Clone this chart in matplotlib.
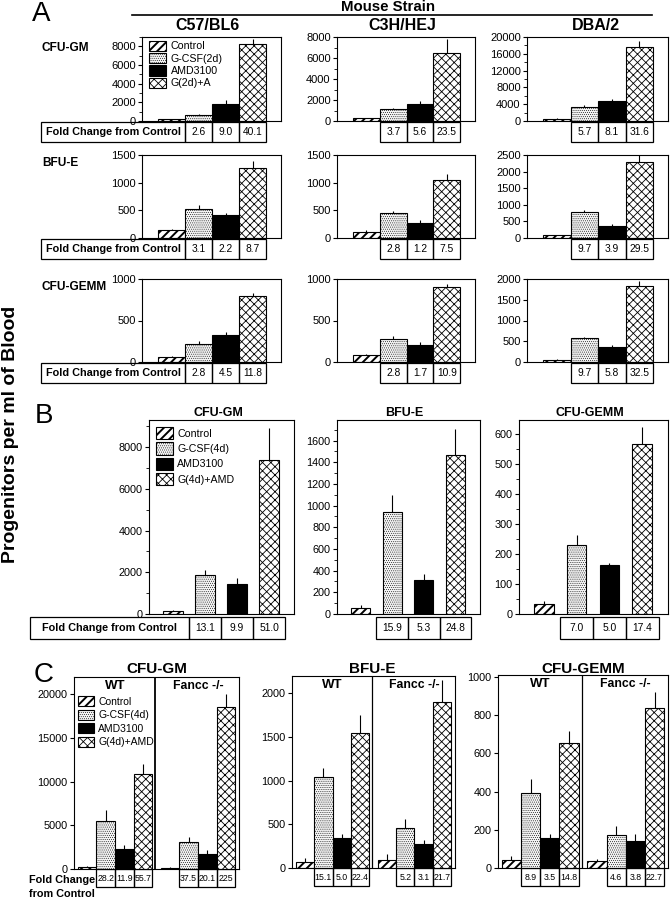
import matplotlib
matplotlib.use('Agg')
import numpy as np
import matplotlib.pyplot as plt
from matplotlib.patches import Rectangle
from matplotlib.lines import Line2D
from matplotlib.ticker import MultipleLocator

plt.rcParams['font.family'] = ['Liberation Sans', 'DejaVu Sans']

# ---------------- data ----------------
# Panel A: 2 day G-CSF in three mouse strains (rows = strains)
strains = ['C57/BL6', 'C3H/HEJ', 'DBA/2']
assays = ['CFU-GM', 'BFU-E', 'CFU-GEMM']
groups_a = ['Control', 'G-CSF(2d)', 'AMD3100', 'G(2d)+A']

a_gm_mean = [[200, 650, 1850, 8200], [280, 1150, 1650, 6450], [560, 3400, 4800, 17600]]
a_gm_err = [[50, 100, 350, 550], [50, 100, 250, 1350], [100, 500, 500, 1400]]
a_gm_fold = [['2.6', '9.0', '40.1'], ['3.7', '5.6', '23.5'], ['5.7', '8.1', '31.6']]

a_bfu_mean = [[140, 530, 410, 1260], [110, 445, 280, 1040], [80, 790, 360, 2290]]
a_bfu_err = [[20, 70, 50, 140], [30, 50, 50, 110], [10, 60, 60, 240]]
a_bfu_fold = [['3.1', '2.2', '8.7'], ['2.8', '1.2', '7.5'], ['9.7', '3.9', '29.5']]

a_gemm_mean = [[65, 220, 330, 790], [85, 280, 200, 905], [60, 570, 360, 1820]]
a_gemm_err = [[10, 35, 35, 40], [15, 30, 45, 35], [20, 40, 40, 140]]
a_gemm_fold = [['2.8', '4.5', '11.8'], ['2.8', '1.7', '10.9'], ['9.7', '5.8', '32.5']]

a_ylim = [[9000, 8000, 20000], [1500, 1500, 2500], [1000, 1000, 2000]]
a_major = [[2000, 2000, 4000], [500, 500, 500], [500, 500, 500]]
a_minor = [[1000, 1000, 2000], [None, None, None], [None, None, None]]

# Panel B: 4 day G-CSF
groups_b = ['Control', 'G-CSF(4d)', 'AMD3100', 'G(4d)+AMD']
b_mean = [[145, 1870, 1440, 7390], [59, 940, 313, 1465], [33, 228, 163, 565]]
b_err = [[30, 240, 290, 1530], [25, 160, 57, 245], [10, 33, 7, 57]]
b_fold = [['13.1', '9.9', '51.0'], ['15.9', '5.3', '24.8'], ['7.0', '5.0', '17.4']]
b_ylim = [9300, 1790, 645]
b_major = [2000, 200, 100]
b_minor = [1000, 100, 50]

# Panel C: WT vs Fancc -/-
genotypes = ['WT', 'Fancc -/-']
c_wt_mean = [[196, 5520, 2300, 10900], [69, 1040, 345, 1550], [44, 392, 158, 655]]
c_wt_err = [[150, 1260, 450, 1170], [40, 110, 50, 200], [20, 75, 18, 60]]
c_ko_mean = [[83, 3100, 1720, 18600], [88, 460, 270, 1905], [37, 175, 142, 837]]
c_ko_err = [[150, 580, 450, 1400], [70, 100, 55, 250], [12, 45, 35, 85]]
c_wt_fold = [['28.2', '11.9', '55.7'], ['15.1', '5.0', '22.4'], ['8.9', '3.5', '14.8']]
c_ko_fold = [['37.5', '20.1', '225'], ['5.2', '3.1', '21.7'], ['4.6', '3.8', '22.7']]
c_ylim = [22000, 2200, 1010]
c_major = [5000, 500, 200]

# ---------------- figure ----------------
W, H = 671, 900
fig = plt.figure(figsize=(W / 100, H / 100), dpi=100)


def px_ax(x0, y0, x1, y1):
    return fig.add_axes([x0 / W, 1 - y1 / H, (x1 - x0) / W, (y1 - y0) / H])


def ftext(x, y, s, **kw):
    fig.text(x / W, 1 - y / H, s, **kw)


bar_styles = [dict(fc='white', hatch='////', hlw=1.4),
              dict(fc='#f4f4f4', hatch='........', hlw=0.35),
              dict(fc='black', hatch=None, hlw=0.5),
              dict(fc='white', hatch='xxxx', hlw=0.6)]


def draw_bars(ax, xs, means, errs, width, labels):
    for x, m, st, lab in zip(xs, means, bar_styles, labels):
        with plt.rc_context({'hatch.linewidth': st['hlw']}):
            bars = ax.bar(x, m, width, color=st['fc'], hatch=st['hatch'],
                          edgecolor='black', linewidth=0.8, label=lab, zorder=2)
        for p in bars:
            if hasattr(p, 'set_hatch_linewidth'):
                p.set_hatch_linewidth(st['hlw'])
    ax.errorbar(xs, means, yerr=[np.zeros(len(errs)), errs], fmt='none',
                ecolor='black', elinewidth=0.8, capsize=0, zorder=3)


def add_legend(ax, **kw):
    leg = ax.legend(frameon=False, handletextpad=0.4, borderaxespad=0.0,
                    borderpad=0.1, loc='upper left', **kw)
    for h, st in zip(leg.legend_handles, bar_styles):
        if hasattr(h, 'set_hatch_linewidth'):
            h.set_hatch_linewidth(st['hlw'])
    return leg


def style_ax(ax, xlim, ytop, major, minor=None, fs=8):
    ax.set_xlim(*xlim)
    ax.set_ylim(0, ytop)
    ax.set_xticks([])
    ax.set_yticks(np.arange(0, ytop + 1, major))
    if minor:
        ax.yaxis.set_minor_locator(MultipleLocator(minor))
    ax.tick_params(axis='y', direction='out', length=3, width=0.8, labelsize=fs, pad=1.5)
    ax.tick_params(axis='y', which='minor', length=2, width=0.6)
    for s in ax.spines.values():
        s.set_linewidth(0.8)


def fold_table(ax, centers, texts, width, y0, y1, fs, label=None, label_x0=None):
    tr = ax.get_xaxis_transform()
    ym = (y0 + y1) / 2
    if label:
        x_end = centers[0] - width / 2
        ax.add_patch(Rectangle((label_x0, y1), x_end - label_x0, y0 - y1, transform=tr,
                               fill=False, lw=0.9, clip_on=False))
        ax.text((label_x0 + x_end) / 2, ym, label, transform=tr, ha='center', va='center',
                fontsize=7.8, fontweight='bold')
    for c, t in zip(centers, texts):
        ax.add_patch(Rectangle((c - width / 2, y1), width, y0 - y1, transform=tr,
                               fill=False, lw=0.9, clip_on=False))
        ax.text(c, ym, t, transform=tr, ha='center', va='center', fontsize=fs)


# ---------------- panel A ----------------
ftext(41, 14, 'A', fontsize=20, ha='center', va='center')
ftext(388, 7, 'Mouse Strain', fontsize=10.8, fontweight='bold', ha='center', va='center')
fig.add_artist(Line2D([132 / W, 652 / W], [1 - 15 / H, 1 - 15 / H], color='black', lw=1.2))
for cx, name in zip([207, 402, 596], strains):
    ftext(cx, 26, name, fontsize=11.5, fontweight='bold', ha='center', va='center')
for cy, name in zip([48, 163, 287], assays):
    ftext(42, cy, name, fontsize=8.6, fontweight='bold', ha='left', va='center')

a_cols = [(142, 281), (337, 475), (527, 668)]
a_rows = [(37, 121), (155, 238), (279, 362)]
a_means = [a_gm_mean, a_bfu_mean, a_gemm_mean]
a_errs = [a_gm_err, a_bfu_err, a_gemm_err]
a_folds = [a_gm_fold, a_bfu_fold, a_gemm_fold]
xa = np.arange(4)
for r in range(3):
    for c in range(3):
        ax = px_ax(a_cols[c][0], a_rows[r][0], a_cols[c][1], a_rows[r][1])
        draw_bars(ax, xa, a_means[r][c], a_errs[r][c], 1.0, groups_a)
        style_ax(ax, (-1.1, 4.05), a_ylim[r][c], a_major[r][c], a_minor[r][c])
        if c == 0:
            fold_table(ax, xa[1:], a_folds[r][c], 1.0, -0.012, -0.255, 7.4,
                       label='Fold Change from Control', label_x0=-4.84)
        else:
            fold_table(ax, xa[1:], a_folds[r][c], 1.0, -0.012, -0.255, 7.4)
        if r == 0 and c == 0:
            add_legend(ax, bbox_to_anchor=(0.045, 0.97), fontsize=7.7, handlelength=1.6,
                       handleheight=1.1, labelspacing=0.15)

# ---------------- panel B ----------------
ftext(44, 416, 'B', fontsize=20, ha='center', va='center')
fig.text(11 / W, 1 - 434 / H, 'Progenitors per ml of Blood', rotation=90, fontsize=14,
         fontweight='bold', ha='center', va='center')
b_cols = [(149, 294), (337, 480), (519, 668)]
b_title_x = [218, 404, 590]
for i in range(3):
    ax = px_ax(b_cols[i][0], 420, b_cols[i][1], 614)
    draw_bars(ax, xa, b_mean[i], b_err[i], 0.6, groups_b)
    style_ax(ax, (-0.75, 3.78), b_ylim[i], b_major[i], b_minor[i], fs=7.8)
    ftext(b_title_x[i], 413, assays[i], fontsize=9, fontweight='bold', ha='center', va='center')
    if i == 0:
        fold_table(ax, xa[1:], b_fold[i], 1.0, -0.015, -0.129, 7.4,
                   label='Fold Change from Control', label_x0=-4.47)
        add_legend(ax, bbox_to_anchor=(0.04, 0.97), fontsize=7.7, handlelength=1.6,
                   handleheight=1.4, labelspacing=0.28)
    else:
        fold_table(ax, xa[1:], b_fold[i], 1.0, -0.015, -0.129, 7.4)

# ---------------- panel C ----------------
ftext(44, 675, 'C', fontsize=20, ha='center', va='center')
c_boxes = [(74, 677, 239, 869), (292, 676, 455, 868), (498, 675, 668, 868)]
c_title_x = [157, 372, 583]
ko_shift = 4.45
xk = xa + ko_shift
for i in range(3):
    ax = px_ax(*c_boxes[i])
    draw_bars(ax, xa, c_wt_mean[i], c_wt_err[i], 1.0, groups_b)
    draw_bars(ax, xk, c_ko_mean[i], c_ko_err[i], 1.0, ['_'] * 4)
    style_ax(ax, (-0.7, 8.15), c_ylim[i], c_major[i], fs=7.8)
    ax.axvline(3.65, color='black', lw=1.3 if i == 0 else 0.9, zorder=1)
    ax.text(1.5, 0.955, genotypes[0], transform=ax.get_xaxis_transform(), ha='center',
            va='center', fontsize=9.5, fontweight='bold')
    ax.text(ko_shift + 1.5, 0.955, genotypes[1], transform=ax.get_xaxis_transform(),
            ha='center', va='center', fontsize=8.8, fontweight='bold')
    ftext(c_title_x[i], 669, assays[i], fontsize=11, fontweight='bold', ha='center', va='center')
    fold_table(ax, xa[1:], c_wt_fold[i], 1.0, 0.0, -0.094, 6.3)
    fold_table(ax, xk[1:], c_ko_fold[i], 1.0, 0.0, -0.094, 6.3)
    if i == 0:
        tr = ax.get_xaxis_transform()
        ax.text(-3.1, -0.055, 'Fold Change', transform=tr, ha='left', va='center',
                fontsize=7.8, fontweight='bold')
        ax.text(-3.1, -0.128, 'from Control', transform=tr, ha='left', va='center',
                fontsize=7.8, fontweight='bold')
        add_legend(ax, bbox_to_anchor=(0.02, 0.905), fontsize=7.5, handlelength=1.5,
                   handleheight=1.1, labelspacing=0.28)

fig.savefig('out.png', dpi=100)
